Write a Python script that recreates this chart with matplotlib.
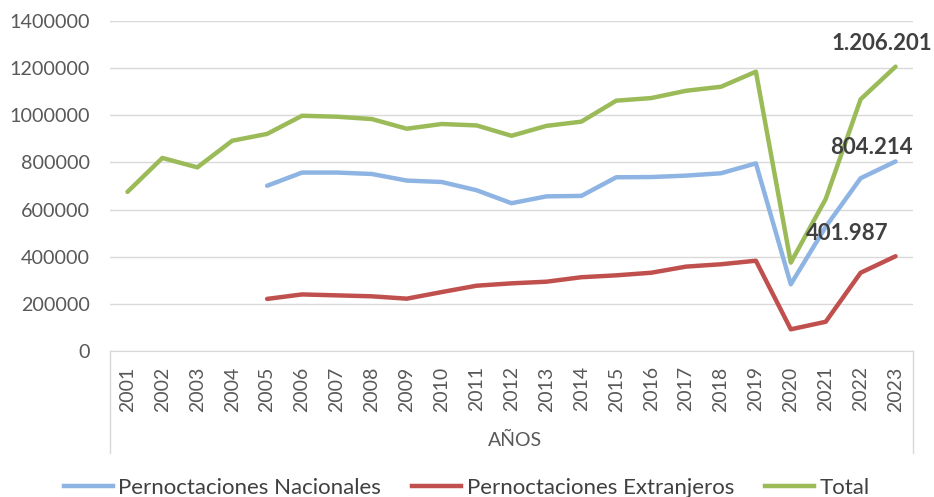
import matplotlib
matplotlib.use('Agg')
import matplotlib.pyplot as plt
from matplotlib.lines import Line2D

# Datos
anios = [str(a) for a in range(2001, 2024)]
nacionales = [None, None, None, None,
              701000, 757000, 757000, 751000, 723000, 717000, 682000, 627000,
              656000, 658000, 737000, 738000, 744000, 754000, 796000,
              283000, 527000, 733000, 804214]
extranjeros = [None, None, None, None,
               221000, 240000, 236000, 232000, 222000, 250000, 277000, 287000,
               294000, 313000, 321000, 332000, 358000, 368000, 383000,
               92000, 124000, 332000, 401987]
total = [675000, 819000, 779000, 892000,
         921000, 998000, 994000, 984000, 943000, 963000, 957000, 913000,
         955000, 973000, 1062000, 1073000, 1104000, 1121000, 1185000,
         375000, 645000, 1068000, 1206201]

c_nac = '#8EB4E3'
c_ext = '#C0504D'
c_tot = '#9BBB59'
txt = '#595959'

plt.rcParams['font.family'] = ['Lato', 'DejaVu Sans']

fig = plt.figure(figsize=(9.34, 4.97), dpi=100)
ax = fig.add_axes([110/934, 1-351/497, (913-110)/934, 330/497])

x = list(range(len(anios)))

def serie(vals):
    xs = [i for i, v in zip(x, vals) if v is not None]
    ys = [v for v in vals if v is not None]
    return xs, ys

lw = 3.2
ax.plot(*serie(nacionales), color=c_nac, lw=lw, solid_capstyle='round', zorder=3)
ax.plot(*serie(extranjeros), color=c_ext, lw=lw, solid_capstyle='round', zorder=3)
ax.plot(*serie(total), color=c_tot, lw=lw, solid_capstyle='round', zorder=3)

ax.set_xlim(-0.5, len(anios) - 0.5)
ax.set_ylim(0, 1400000)
ax.set_yticks(range(0, 1400001, 200000))
ax.set_yticklabels([str(v) for v in range(0, 1400001, 200000)], fontsize=14.2, color=txt)
ax.set_xticks(x)
ax.set_xticklabels(anios, rotation=90, fontsize=14, color=txt)
ax.tick_params(axis='y', length=0, pad=14.5)
ax.tick_params(axis='x', length=0, pad=11)
ax.grid(axis='y', color='#D9D9D9', lw=1)
for s in ['top', 'right', 'left']:
    ax.spines[s].set_visible(False)
ax.spines['bottom'].set_color('#D9D9D9')

# lineas verticales del eje de categorias
for xe in (0, 1):
    ax.add_line(Line2D([xe, xe], [0, -0.31], transform=ax.transAxes,
                       color='#D9D9D9', lw=1, clip_on=False))

fig.text(515/934, 1-440/497, 'AÑOS', ha='center', va='center', fontsize=14, color=txt)

# etiquetas de datos (desplazamiento en puntos)
ultimo = len(anios) - 1
for vals, dx, dy in [(total, -10, 17), (nacionales, -17, 10), (extranjeros, -35, 16.5)]:
    v = vals[ultimo]
    etiqueta = f'{v:,}'.replace(',', '.')
    ax.annotate(etiqueta, (ultimo, v), xytext=(dx, dy), textcoords='offset points',
                ha='center', va='center', fontsize=16, fontweight='bold', color='#404040',
                annotation_clip=False)

handles = [Line2D([], [], color=c, lw=lw) for c in (c_nac, c_ext, c_tot)]
fig.legend(handles, ['Pernoctaciones Nacionales', 'Pernoctaciones Extranjeros', 'Total'],
           loc='center', bbox_to_anchor=(0.5, 1-488/497), ncol=3, frameon=False,
           fontsize=16, labelcolor='#404040', handlelength=2.2, handletextpad=0.25,
           columnspacing=1.4, borderpad=0)

fig.savefig('out.png', dpi=100)
